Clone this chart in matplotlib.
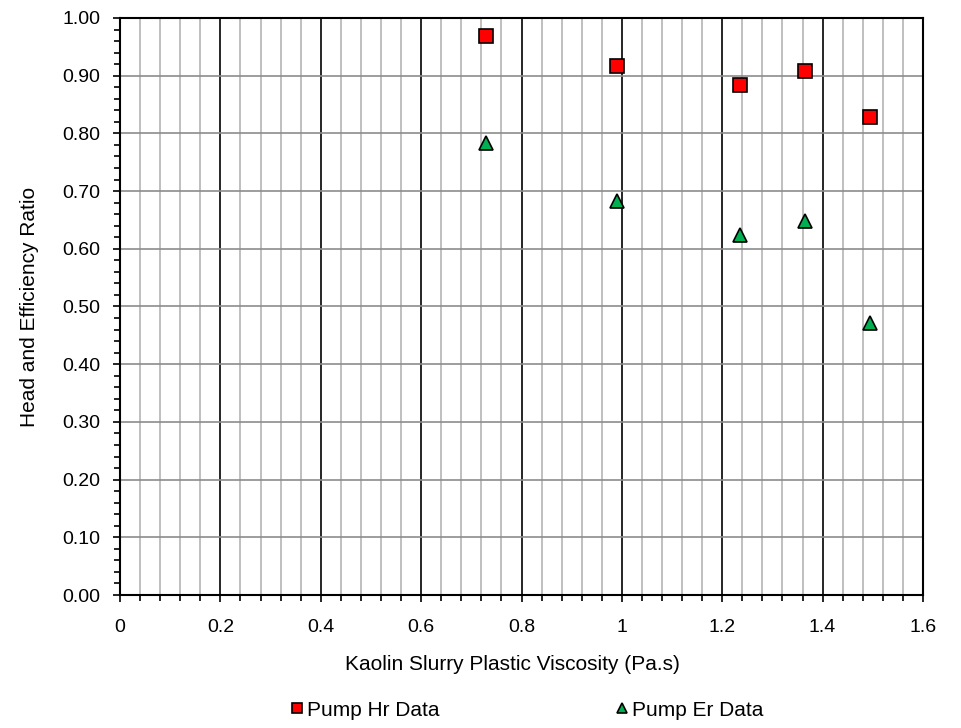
import matplotlib
matplotlib.use("Agg")
import matplotlib.pyplot as plt
from matplotlib.ticker import MultipleLocator, FormatStrFormatter, FuncFormatter

plt.rcParams['font.family'] = ['Liberation Sans', 'DejaVu Sans']

visc = [0.73, 0.99, 1.235, 1.365, 1.495]
hr = [0.969, 0.916, 0.884, 0.908, 0.828]
er = [0.783, 0.683, 0.624, 0.648, 0.471]

fig = plt.figure(figsize=(9.62, 7.28), dpi=100)
ax = fig.add_axes([120/962, (728-595)/728, 803/962, 577/728])

ax.set_xlim(0, 1.6)
ax.set_ylim(0, 1.0)
ax.xaxis.set_major_locator(MultipleLocator(0.2))
ax.xaxis.set_minor_locator(MultipleLocator(0.04))
ax.yaxis.set_major_locator(MultipleLocator(0.1))
ax.yaxis.set_minor_locator(MultipleLocator(0.02))

def xfmt(v, pos):
    if abs(v - round(v)) < 1e-9:
        return str(int(round(v)))
    return f"{v:.1f}"
ax.xaxis.set_major_formatter(FuncFormatter(xfmt))
ax.yaxis.set_major_formatter(FormatStrFormatter('%.2f'))

ax.grid(which='minor', axis='x', color='#b4b4b4', linewidth=1.2)
ax.grid(which='major', axis='x', color='black', linewidth=1.2)
ax.grid(which='major', axis='y', color='#8c8c8c', linewidth=1.2)
ax.set_axisbelow(True)

ax.tick_params(which='both', direction='out', length=5, width=1.2, labelsize=14)
ax.tick_params(which='minor', length=4)
ax.tick_params(axis='y', pad=9)
ax.tick_params(axis='x', pad=12)
for s in ax.spines.values():
    s.set_linewidth(1.5)

ax.plot(visc, hr, linestyle='none', marker='s', markersize=10, markerfacecolor='#ff0000',
        markeredgecolor='black', markeredgewidth=1.2, label='Pump Hr Data', zorder=5)
ax.plot(visc, er, linestyle='none', marker='^', markersize=10, markerfacecolor='#00b050',
        markeredgecolor='black', markeredgewidth=1.2, label='Pump Er Data', zorder=5)

ax.set_xlabel('Kaolin Slurry Plastic Viscosity (Pa.s)', fontsize=15)
ax.xaxis.set_label_coords((512 - 120) / 803, -(655 - 595) / 577, transform=ax.transAxes)
ax.set_ylabel('Head and Efficiency Ratio', fontsize=15)
ax.yaxis.set_label_coords(-(120 - 39) / 803, 0.5, transform=ax.transAxes)

fig.legend(loc='center', bbox_to_anchor=(527/962, (728-710)/728), ncol=2, frameon=False,
           fontsize=15, markerscale=0.65, handlelength=0.6, handletextpad=0.15,
           columnspacing=8.5)

fig.savefig('out.png', dpi=100)
